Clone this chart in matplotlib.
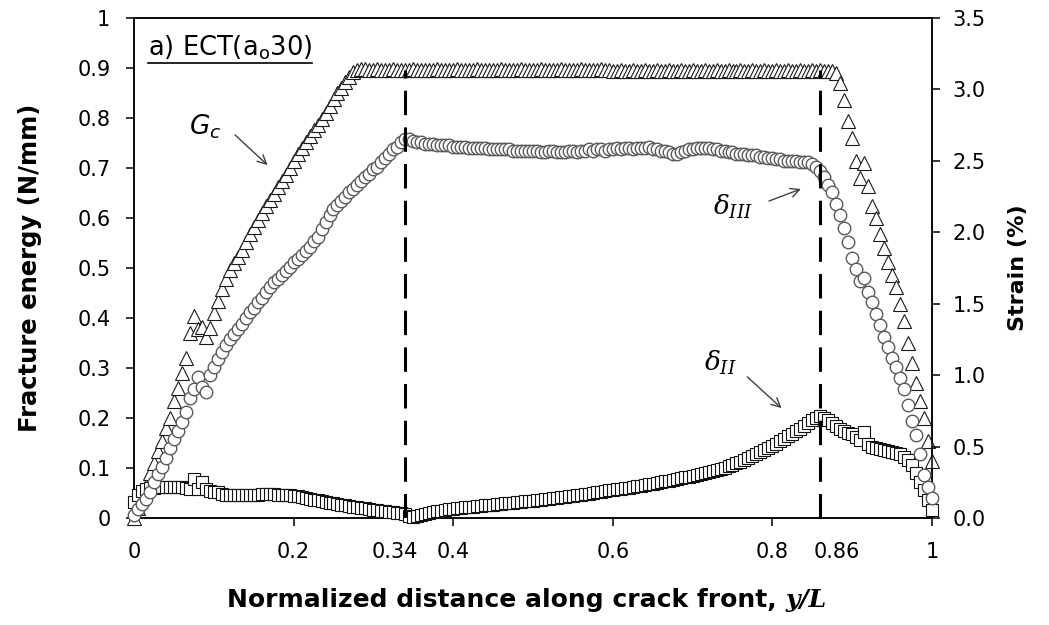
import numpy as np
import matplotlib
matplotlib.use("Agg")
import matplotlib.pyplot as plt
from matplotlib.lines import Line2D
from matplotlib.transforms import offset_copy

plt.rcParams['font.family'] = ['DejaVu Sans']

# normalized distance along crack front (mesh nodes, step 0.005)
y_over_L = np.linspace(0.0, 1.0, 201)

# Fracture energy Gc (N/mm) -- left axis
Gc = [
    0.000, 0.020, 0.040, 0.065, 0.090, 0.110, 0.135, 0.155, 0.180, 0.200,
    0.235, 0.260, 0.290, 0.320, 0.370, 0.405, 0.378, 0.382, 0.362, 0.380,
    0.410, 0.435, 0.458, 0.478, 0.496, 0.510, 0.522, 0.536, 0.552, 0.568,
    0.582, 0.596, 0.610, 0.624, 0.636, 0.648, 0.662, 0.674, 0.686, 0.700,
    0.714, 0.728, 0.740, 0.752, 0.764, 0.776, 0.787, 0.798, 0.810, 0.824,
    0.838, 0.850, 0.860, 0.872, 0.882, 0.892, 0.896, 0.898, 0.898, 0.897,
    0.897, 0.898, 0.897, 0.896, 0.897, 0.898, 0.897, 0.897, 0.896, 0.897,
    0.898, 0.897, 0.897, 0.896, 0.897, 0.897, 0.898, 0.897, 0.896, 0.897,
    0.897, 0.898, 0.897, 0.897, 0.896, 0.897, 0.898, 0.897, 0.897, 0.896,
    0.897, 0.897, 0.898, 0.897, 0.896, 0.897, 0.897, 0.898, 0.897, 0.897,
    0.896, 0.897, 0.898, 0.897, 0.897, 0.896, 0.897, 0.898, 0.897, 0.896,
    0.897, 0.897, 0.898, 0.897, 0.896, 0.897, 0.897, 0.898, 0.897, 0.896,
    0.895, 0.895, 0.896, 0.895, 0.895, 0.896, 0.895, 0.895, 0.896, 0.895,
    0.895, 0.896, 0.895, 0.895, 0.896, 0.895, 0.895, 0.896, 0.895, 0.895,
    0.896, 0.895, 0.895, 0.896, 0.895, 0.895, 0.896, 0.895, 0.895, 0.896,
    0.895, 0.895, 0.896, 0.895, 0.895, 0.896, 0.895, 0.895, 0.896, 0.895,
    0.895, 0.896, 0.895, 0.895, 0.896, 0.895, 0.895, 0.896, 0.895, 0.895,
    0.896, 0.895, 0.896, 0.895, 0.895, 0.894, 0.890, 0.870, 0.836, 0.795,
    0.760, 0.715, 0.680, 0.710, 0.665, 0.625, 0.600, 0.568, 0.540, 0.512,
    0.486, 0.462, 0.428, 0.395, 0.350, 0.310, 0.270, 0.235, 0.200, 0.155,
    0.115]

# Mode III strain delta_III (%) -- right axis
delta_III = [
    0.02, 0.06, 0.10, 0.13, 0.18, 0.25, 0.31, 0.36, 0.42, 0.49,
    0.55, 0.61, 0.67, 0.74, 0.84, 0.90, 0.99, 0.92, 0.88, 1.00,
    1.06, 1.11, 1.16, 1.21, 1.25, 1.29, 1.32, 1.36, 1.40, 1.44,
    1.47, 1.51, 1.54, 1.58, 1.62, 1.65, 1.67, 1.70, 1.73, 1.76,
    1.79, 1.81, 1.84, 1.87, 1.90, 1.94, 1.97, 2.02, 2.07, 2.12,
    2.16, 2.19, 2.22, 2.25, 2.28, 2.30, 2.33, 2.36, 2.39, 2.41,
    2.44, 2.46, 2.49, 2.52, 2.55, 2.58, 2.60, 2.63, 2.65, 2.65,
    2.64, 2.63, 2.63, 2.62, 2.62, 2.62, 2.61, 2.61, 2.61, 2.61,
    2.60, 2.60, 2.60, 2.60, 2.59, 2.59, 2.59, 2.59, 2.59, 2.58,
    2.58, 2.58, 2.58, 2.58, 2.58, 2.57, 2.57, 2.57, 2.57, 2.57,
    2.57, 2.57, 2.56, 2.56, 2.57, 2.57, 2.56, 2.56, 2.56, 2.57,
    2.57, 2.56, 2.57, 2.57, 2.58, 2.57, 2.58, 2.58, 2.57, 2.58,
    2.58, 2.59, 2.58, 2.59, 2.59, 2.58, 2.59, 2.59, 2.59, 2.60,
    2.58, 2.58, 2.57, 2.57, 2.56, 2.55, 2.55, 2.56, 2.57, 2.58,
    2.58, 2.59, 2.59, 2.59, 2.59, 2.58, 2.58, 2.57, 2.57, 2.56,
    2.56, 2.55, 2.55, 2.55, 2.54, 2.54, 2.54, 2.53, 2.53, 2.52,
    2.52, 2.51, 2.51, 2.50, 2.50, 2.50, 2.50, 2.49, 2.49, 2.49,
    2.48, 2.46, 2.43, 2.39, 2.33, 2.28, 2.20, 2.12, 2.03, 1.93,
    1.82, 1.74, 1.66, 1.68, 1.58, 1.51, 1.43, 1.35, 1.27, 1.20,
    1.12, 1.06, 0.98, 0.90, 0.79, 0.68, 0.58, 0.45, 0.30, 0.22,
    0.14]

# Mode II strain delta_II (%) -- right axis
delta_II = [
    0.110, 0.160, 0.190, 0.200, 0.210, 0.210, 0.220, 0.220, 0.220, 0.220,
    0.220, 0.220, 0.220, 0.210, 0.200, 0.270, 0.200, 0.250, 0.200, 0.190,
    0.180, 0.180, 0.170, 0.160, 0.160, 0.160, 0.160, 0.160, 0.160, 0.160,
    0.160, 0.160, 0.170, 0.170, 0.170, 0.170, 0.160, 0.160, 0.160, 0.160,
    0.154, 0.151, 0.147, 0.140, 0.133, 0.126, 0.123, 0.116, 0.112, 0.105,
    0.102, 0.098, 0.091, 0.088, 0.084, 0.077, 0.074, 0.070, 0.067, 0.063,
    0.056, 0.053, 0.049, 0.046, 0.042, 0.039, 0.035, 0.032, 0.028, 0.014,
    0.007, 0.014, 0.021, 0.028, 0.035, 0.039, 0.046, 0.049, 0.056, 0.060,
    0.063, 0.067, 0.070, 0.074, 0.077, 0.077, 0.081, 0.084, 0.088, 0.088,
    0.091, 0.095, 0.098, 0.102, 0.105, 0.105, 0.109, 0.112, 0.116, 0.116,
    0.119, 0.123, 0.126, 0.130, 0.133, 0.137, 0.140, 0.144, 0.147, 0.151,
    0.154, 0.158, 0.161, 0.165, 0.168, 0.175, 0.179, 0.182, 0.186, 0.193,
    0.196, 0.200, 0.203, 0.207, 0.210, 0.217, 0.221, 0.224, 0.228, 0.235,
    0.238, 0.245, 0.249, 0.256, 0.259, 0.266, 0.270, 0.277, 0.284, 0.287,
    0.294, 0.301, 0.308, 0.315, 0.322, 0.329, 0.336, 0.343, 0.350, 0.361,
    0.371, 0.382, 0.392, 0.403, 0.417, 0.431, 0.445, 0.459, 0.473, 0.487,
    0.501, 0.518, 0.536, 0.553, 0.571, 0.588, 0.606, 0.623, 0.644, 0.665,
    0.683, 0.697, 0.711, 0.700, 0.686, 0.665, 0.644, 0.623, 0.609, 0.595,
    0.588, 0.567, 0.546, 0.602, 0.518, 0.497, 0.490, 0.483, 0.476, 0.469,
    0.462, 0.455, 0.445, 0.427, 0.406, 0.371, 0.315, 0.252, 0.193, 0.123,
    0.053]

x_ticks = [0, 0.2, 0.4, 0.6, 0.8, 1]
x_tick_labels = ['0', '0.2', '0.4', '0.6', '0.8', '1']
marked_x = [0.34, 0.86]
marked_x_labels = ['0.34', '0.86']
left_ticks = [0, 0.1, 0.2, 0.3, 0.4, 0.5, 0.6, 0.7, 0.8, 0.9, 1.0]
left_tick_labels = ['0', '0.1', '0.2', '0.3', '0.4', '0.5', '0.6', '0.7', '0.8', '0.9', '1']
right_ticks = [0.0, 0.5, 1.0, 1.5, 2.0, 2.5, 3.0, 3.5]
right_tick_labels = ['0.0', '0.5', '1.0', '1.5', '2.0', '2.5', '3.0', '3.5']
dashed_top = 0.897

W, H = 1049, 625
fig = plt.figure(figsize=(W / 100, H / 100), dpi=100)
L, R, T, B = 134, 932, 18, 518
ax = fig.add_axes([L / W, 1 - B / H, (R - L) / W, (B - T) / H])
ax2 = ax.twinx()

ax.set_xlim(0, 1)
ax.set_ylim(0, 1)
ax2.set_ylim(0, 3.5)

ax.plot(y_over_L, Gc, linestyle='none', marker='^', ms=10, mfc='white',
        mec='#1a1a1a', mew=0.8, clip_on=False, zorder=3)
ax2.plot(y_over_L, delta_II, linestyle='none', marker='s', ms=8.5, mfc='white',
         mec='#111111', mew=0.8, clip_on=False, zorder=3)
ax2.plot(y_over_L, delta_III, linestyle='none', marker='o', ms=9, mfc='white',
         mec='#5a5a5a', mew=1.0, clip_on=False, zorder=4)

for xd in marked_x:
    ax2.plot([xd, xd], [0, dashed_top], transform=ax.transData, color='black',
             lw=2.2, linestyle=(0, (8, 4)), zorder=5)

for a in (ax, ax2):
    for s in a.spines.values():
        s.set_linewidth(1.1)

ax.set_xticks(x_ticks)
ax.set_xticklabels(x_tick_labels)
ax.set_yticks(left_ticks)
ax.set_yticklabels(left_tick_labels)
ax2.set_yticks(right_ticks)
ax2.set_yticklabels(right_tick_labels)
ax.tick_params(axis='x', direction='out', length=6, width=1.1, labelsize=15, pad=11)
ax.tick_params(axis='y', direction='out', length=6, width=1.1, labelsize=15, pad=11)
ax2.tick_params(axis='y', direction='out', length=6, width=1.1, labelsize=15, pad=9)

# extra labels for the two marked positions (nudged apart from 0.4 / 0.8 labels)
for xd, lab, dx in zip(marked_x, marked_x_labels, [-11, 17]):
    tr = offset_copy(ax.get_xaxis_transform(), fig=fig, x=dx, y=-(6 + 11) * 100 / 72,
                     units='dots')
    ax.text(xd, 0, lab, transform=tr, fontsize=15, ha='center', va='top')

fig.text(30 / W, 1 - 268 / H, 'Fracture energy (N/mm)', rotation=90,
         fontsize=17.5, fontweight='bold', ha='center', va='center')
fig.text(1018 / W, 1 - 268 / H, 'Strain (%)', rotation=90,
         fontsize=16, fontweight='bold', ha='center', va='center')

t1 = fig.text(0, 1 - 607 / H, 'Normalized distance along crack front, ',
              fontsize=18, fontweight='bold', ha='left', va='baseline')
t2 = fig.text(0, 1 - 607 / H, 'y/L', family='DejaVu Serif', fontsize=18,
              fontweight='bold', style='italic', ha='left', va='baseline')
fig.canvas.draw()
r = fig.canvas.get_renderer()
w1 = t1.get_window_extent(r).width
w2 = t2.get_window_extent(r).width
x0 = 527 - (w1 + w2) / 2
t1.set_x(x0 / W)
t2.set_x((x0 + w1) / W)

title = ax2.text(0.0175, 0.926, r'a) ECT(a$_\mathrm{o}$30)', transform=ax.transData,
                 fontsize=18.5, ha='left', va='baseline', zorder=6)
fig.canvas.draw()
bb = title.get_window_extent(r)
fig.add_artist(Line2D([bb.x0 / W, bb.x1 / W], [(bb.y0 - 1) / H, (bb.y0 - 1) / H],
                      color='black', lw=1.2))

arrow_kw = dict(arrowstyle='->', color='#404040', lw=1.0, mutation_scale=16)
ax2.text(0.089, 0.782, r'$G_c$', transform=ax.transData, fontsize=19,
         ha='center', va='center', zorder=6)
ax2.annotate('', xy=(0.17, 0.702), xytext=(0.124, 0.77), xycoords=ax.transData,
             textcoords=ax.transData, arrowprops=arrow_kw, zorder=6)
ax2.text(0.751, 0.622, r'$\delta_{III}$', transform=ax.transData, fontsize=19,
         ha='center', va='center', math_fontfamily='dejavuserif', zorder=6)
ax2.annotate('', xy=(0.839, 0.66), xytext=(0.7925, 0.632), xycoords=ax.transData,
             textcoords=ax.transData, arrowprops=arrow_kw, zorder=6)
ax2.text(0.735, 0.31, r'$\delta_{II}$', transform=ax.transData, fontsize=19,
         ha='center', va='center', math_fontfamily='dejavuserif', zorder=6)
ax2.annotate('', xy=(0.814, 0.216), xytext=(0.766, 0.286), xycoords=ax.transData,
             textcoords=ax.transData, arrowprops=arrow_kw, zorder=6)

fig.savefig('out.png', dpi=100)
